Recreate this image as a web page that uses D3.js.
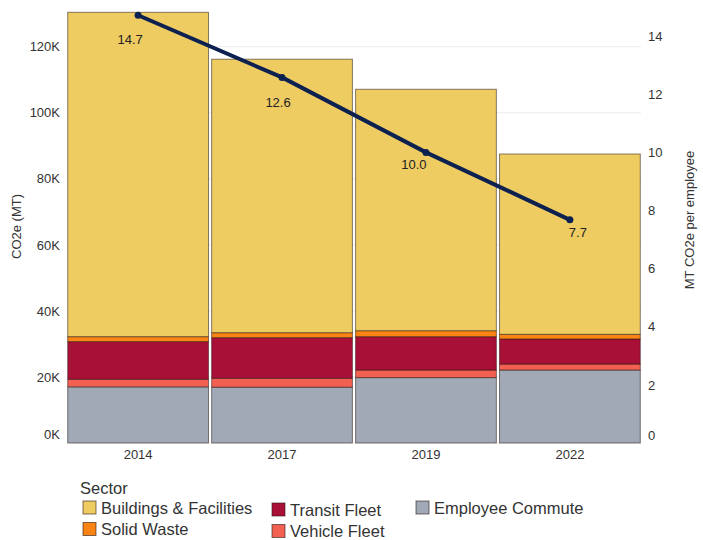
<!DOCTYPE html>
<html lang="en">
<head>
  <meta charset="UTF-8">
  <title>CO2e by Sector</title>
  <script src="https://d3js.org/d3.v7.min.js"></script>
  <style>
    body {
      margin: 0;
      background-color: white;
      font-family: "Liberation Sans", Arial, sans-serif;
    }
    .tick text {
      fill: #333;
      font-size: 13px;
    }
    .axis-title {
      fill: #333;
      font-size: 13px;
    }
    .legend text {
      fill: #333;
      font-size: 16.5px;
    }
  </style>
</head>
<body>
  <svg width="703" height="540"></svg>
  <script>
    // data (thousands of MT CO2e)
    const years = ["2014", "2017", "2019", "2022"];
    const sectors = ["Employee Commute", "Vehicle Fleet", "Transit Fleet", "Solid Waste", "Buildings & Facilities"];
    const employeeCommute = [17.0, 16.9, 19.8, 22.1];
    const vehicleFleet = [2.3, 2.7, 2.3, 1.8];
    const transitFleet = [11.4, 12.3, 10.1, 7.6];
    const solidWaste = [1.5, 1.5, 1.8, 1.4];
    const buildings = [98.2, 82.8, 73.1, 54.6];
    const perEmployee = [14.72, 12.58, 10.0, 7.68];

    const leftTicks = [0, 20, 40, 60, 80, 100, 120];
    const rightTicks = [0, 2, 4, 6, 8, 10, 12, 14];

    const colors = {
      "Buildings & Facilities": "#eecc62",
      "Solid Waste": "#f98313",
      "Transit Fleet": "#a91037",
      "Vehicle Fleet": "#f26052",
      "Employee Commute": "#a0a9b5"
    };

    // little nudges for the point labels (dx, dy)
    const labelNudge = [[-8, 24], [-4, 25], [-12, 12], [8, 13]];

    const rows = years.map((y, i) => ({
      year: y,
      "Employee Commute": employeeCommute[i],
      "Vehicle Fleet": vehicleFleet[i],
      "Transit Fleet": transitFleet[i],
      "Solid Waste": solidWaste[i],
      "Buildings & Facilities": buildings[i]
    }));

    const svg = d3.select("svg");
    const plotLeft = 67, plotRight = 641, plotTop = 10, plotBottom = 443;

    const x = d3.scaleBand().domain(years).range([plotLeft, plotRight]).paddingInner(0.022).paddingOuter(0.005);
    const y = d3.scaleLinear().domain([0, 131.1]).range([plotBottom, plotTop]);
    const y2 = d3.scaleLinear().domain([0, 14.9]).range([plotBottom, plotTop]);

    // grid
    svg.append("g").selectAll("line")
      .data(leftTicks)
      .join("line")
      .attr("x1", plotLeft).attr("x2", plotRight)
      .attr("y1", d => y(d)).attr("y2", d => y(d))
      .attr("stroke", "#ececec");

    // stacked bars
    const stack = d3.stack().keys(sectors)(rows);
    svg.append("g").selectAll("g")
      .data(stack)
      .join("g")
      .attr("fill", d => colors[d.key])
      .selectAll("rect")
      .data(d => d)
      .join("rect")
      .attr("x", d => x(d.data.year))
      .attr("width", x.bandwidth())
      .attr("y", d => y(d[1]))
      .attr("height", d => y(d[0]) - y(d[1]))
      .attr("stroke", "rgba(40,25,20,0.55)")
      .attr("stroke-width", 1);

    // axes
    const yAxis = svg.append("g")
      .attr("transform", `translate(${plotLeft},0)`)
      .call(d3.axisLeft(y).tickValues(leftTicks).tickFormat(d => d + "K").tickSize(0).tickPadding(7));
    yAxis.select(".domain").remove();
    yAxis.selectAll(".tick").filter(d => d === 0).select("text").attr("dy", "-0.35em");

    const y2Axis = svg.append("g")
      .attr("transform", `translate(${plotRight},0)`)
      .call(d3.axisRight(y2).tickValues(rightTicks).tickSize(0).tickPadding(7));
    y2Axis.select(".domain").remove();
    y2Axis.selectAll(".tick").filter(d => d === 0).select("text").attr("dy", "-0.25em");

    const xAxis = svg.append("g")
      .attr("transform", `translate(0,${plotBottom})`)
      .call(d3.axisBottom(x).tickSize(0).tickPadding(7));
    xAxis.select(".domain").remove();

    svg.append("text")
      .attr("class", "axis-title")
      .attr("transform", `translate(21,${(plotTop + plotBottom) / 2}) rotate(-90)`)
      .attr("text-anchor", "middle")
      .text("CO2e (MT)");

    svg.append("text")
      .attr("class", "axis-title")
      .attr("transform", `translate(694,220) rotate(-90)`)
      .attr("text-anchor", "middle")
      .text("MT CO2e per employee");

    // per employee line
    const cx = (d, i) => x(years[i]) + x.bandwidth() / 2;
    svg.append("path")
      .datum(perEmployee)
      .attr("fill", "none")
      .attr("stroke", "#0c2150")
      .attr("stroke-width", 4)
      .attr("d", d3.line().x(cx).y(d => y2(d)));

    svg.append("g").selectAll("circle")
      .data(perEmployee)
      .join("circle")
      .attr("cx", cx)
      .attr("cy", d => y2(d))
      .attr("r", 3.5)
      .attr("fill", "#0c2150");

    svg.append("g").selectAll("text")
      .data(perEmployee)
      .join("text")
      .attr("x", (d, i) => cx(d, i) + labelNudge[i][0])
      .attr("y", (d, i) => y2(d) + labelNudge[i][1])
      .attr("dy", "0.35em")
      .attr("text-anchor", "middle")
      .attr("font-size", 13)
      .attr("fill", "#222")
      .text(d => d3.format(".1f")(d));

    // legend
    const legendItems = [
      { key: "Buildings & Facilities", col: 0, row: 0 },
      { key: "Solid Waste", col: 0, row: 1 },
      { key: "Transit Fleet", col: 1, row: 0 },
      { key: "Vehicle Fleet", col: 1, row: 1 },
      { key: "Employee Commute", col: 2, row: 0 }
    ];
    const colX = [83, 272, 416];
    const legend = svg.append("g").attr("class", "legend");
    legend.append("text").attr("x", 80).attr("y", 494).text("Sector");
    const li = legend.selectAll("g.item")
      .data(legendItems)
      .join("g")
      .attr("class", "item")
      .attr("transform", d => `translate(${colX[d.col]},${501 + d.row * 21.5 + (d.col === 1 ? 2 : 0)})`);
    li.append("rect")
      .attr("width", 13).attr("height", 13)
      .attr("fill", d => colors[d.key])
      .attr("stroke", "rgba(40,25,20,0.6)");
    li.append("text")
      .attr("x", 18).attr("y", 7).attr("dy", "0.35em")
      .text(d => d.key);
  </script>
</body>
</html>
